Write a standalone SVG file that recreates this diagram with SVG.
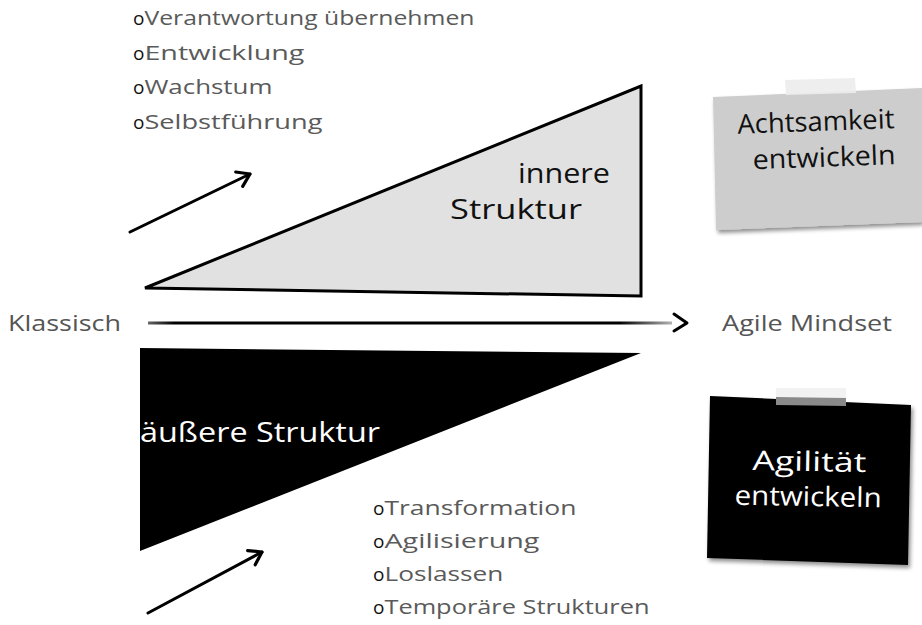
<svg xmlns="http://www.w3.org/2000/svg" width="922" height="625" viewBox="0 0 922 625">
<defs>
  <style>
    .hand { font-family: "Open Sans", "Noto Sans", "DejaVu Sans", sans-serif; }
    .list { font-size: 20px; fill: #5a5a5a; }
    .bul { fill: #111; font-size: 19px; }
    .side { font-size: 22px; fill: #555; }
    .big { font-size: 28px; fill: #111; }
    .note { font-size: 27px; }
    .arrow { fill: none; stroke: #000; stroke-width: 3; stroke-linecap: round; stroke-linejoin: round; }
  </style>
  <marker id="chev" markerUnits="userSpaceOnUse" viewBox="0 0 16 20" refX="14" refY="10" markerWidth="16" markerHeight="20" orient="auto">
    <path d="M2,2 L14,10 L2,18" fill="none" stroke="#000" stroke-width="3.2" stroke-linecap="round" stroke-linejoin="round"/>
  </marker>
  <linearGradient id="fadeH" x1="148" y1="0" x2="672" y2="0" gradientUnits="userSpaceOnUse">
    <stop offset="0" stop-color="#000" stop-opacity="0.6"/>
    <stop offset="0.05" stop-color="#000"/>
    <stop offset="0.9" stop-color="#000"/>
    <stop offset="1" stop-color="#000" stop-opacity="0.3"/>
  </linearGradient>
  <filter id="shadow" x="-10%" y="-10%" width="130%" height="130%">
    <feGaussianBlur in="SourceAlpha" stdDeviation="2"/>
    <feOffset dx="2" dy="3"/>
    <feComponentTransfer><feFuncA type="linear" slope="0.45"/></feComponentTransfer>
    <feMerge><feMergeNode/><feMergeNode in="SourceGraphic"/></feMerge>
  </filter>
</defs>

<rect width="922" height="625" fill="#fff"/>

<g id="list-top" class="hand list">
  <text x="133" y="25"><tspan class="bul">o</tspan><tspan textLength="330" lengthAdjust="spacingAndGlyphs">Verantwortung übernehmen</tspan></text>
  <text x="133" y="60"><tspan class="bul">o</tspan><tspan textLength="160" lengthAdjust="spacingAndGlyphs">Entwicklung</tspan></text>
  <text x="133" y="94"><tspan class="bul">o</tspan><tspan textLength="128" lengthAdjust="spacingAndGlyphs">Wachstum</tspan></text>
  <text x="133" y="129"><tspan class="bul">o</tspan><tspan textLength="178" lengthAdjust="spacingAndGlyphs">Selbstführung</tspan></text>
</g>

<g id="triangle-inner">
  <polygon points="145,288 641,86 641,296" fill="#e1e1e1" stroke="#000" stroke-width="3" stroke-linejoin="miter"/>
  <text class="hand big" x="518" y="183" textLength="92" lengthAdjust="spacingAndGlyphs">innere</text>
  <text class="hand big" x="450" y="219" textLength="132" lengthAdjust="spacingAndGlyphs">Struktur</text>
</g>

<g id="triangle-outer">
  <polygon points="140,348 641,353 140,551" fill="#000"/>
  <text class="hand big" x="140" y="442" style="fill:#fff" textLength="240" lengthAdjust="spacingAndGlyphs">äußere Struktur</text>
</g>

<g id="label-klassisch">
  <text class="hand side" x="8" y="331" textLength="113" lengthAdjust="spacingAndGlyphs">Klassisch</text>
</g>

<g id="label-agile">
  <text class="hand side" x="722" y="331" textLength="170" lengthAdjust="spacingAndGlyphs">Agile Mindset</text>
</g>

<g id="list-bottom" class="hand list">
  <text x="373" y="515"><tspan class="bul">o</tspan><tspan textLength="192" lengthAdjust="spacingAndGlyphs">Transformation</tspan></text>
  <text x="373" y="548"><tspan class="bul">o</tspan><tspan textLength="155" lengthAdjust="spacingAndGlyphs">Agilisierung</tspan></text>
  <text x="373" y="581"><tspan class="bul">o</tspan><tspan textLength="119" lengthAdjust="spacingAndGlyphs">Loslassen</tspan></text>
  <text x="373" y="614"><tspan class="bul">o</tspan><tspan textLength="265" lengthAdjust="spacingAndGlyphs">Temporäre Strukturen</tspan></text>
</g>

<g id="note-achtsamkeit">
  <polygon points="713,97 922,88 922,222 716,230" fill="#cdcdcd" filter="url(#shadow)"/>
  <polygon points="785,80 855,78 856,93 786,95" fill="#ececec" opacity="0.9"/>
  <g transform="rotate(-2 815 140)">
    <text class="hand note" x="738" y="131" fill="#111" textLength="157" lengthAdjust="spacingAndGlyphs">Achtsamkeit</text>
    <text class="hand note" x="752" y="167" fill="#111" textLength="143" lengthAdjust="spacingAndGlyphs">entwickeln</text>
  </g>
</g>

<g id="note-agilitaet">
  <polygon points="710,396 911,405 908,565 707,558" fill="#000" filter="url(#shadow)"/>
  <polygon points="776,388 846,388 846,398 776,397" fill="#f2f2f2"/>
  <polygon points="776,397 846,398 846,406 776,405" fill="#8a8a8a"/>
  <g transform="rotate(1 810 480)">
    <text class="hand note" x="752" y="471" fill="#fff" textLength="114" lengthAdjust="spacingAndGlyphs">Agilität</text>
    <text class="hand note" x="735" y="506" fill="#fff" textLength="147" lengthAdjust="spacingAndGlyphs">entwickeln</text>
  </g>
</g>

<g id="connectors">
  <path class="arrow" d="M130,232 L250,174" marker-end="url(#chev)"/>
  <path class="arrow" d="M148,613 L262,552" marker-end="url(#chev)"/>
  <path d="M148,323 L672,323" fill="none" stroke="url(#fadeH)" stroke-width="3"/>
  <path class="arrow" d="M674,314 L687,323 L674,331"/>
</g>
</svg>
